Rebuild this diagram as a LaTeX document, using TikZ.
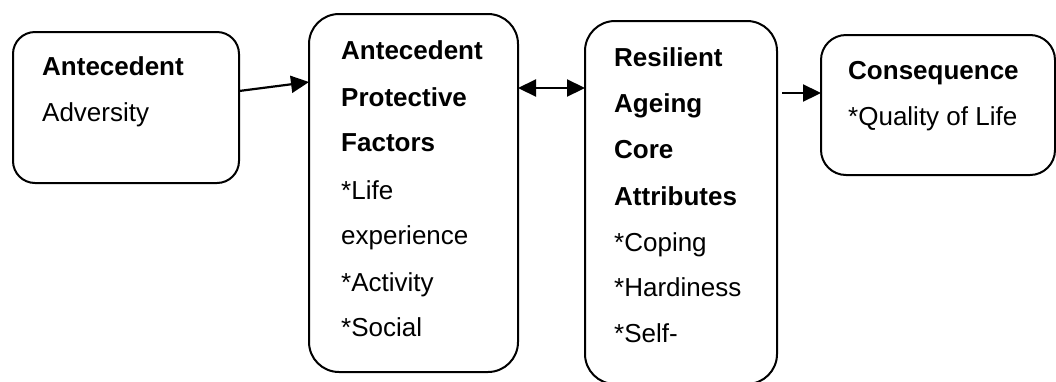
\documentclass[tikz,border=0pt]{standalone}
\usepackage{fontspec}
\setmainfont{Liberation Sans}
\usetikzlibrary{arrows.meta}
\begin{document}
\begin{tikzpicture}[x=1pt,y=-1pt,
  box/.style={draw=black, line width=2pt, rounded corners=#1, inner sep=0pt, outer sep=0pt, anchor=north west},
  txt/.style={anchor=base west, inner sep=0pt, font=\fontsize{26}{30}\selectfont},
  hd/.style={txt, font=\fontsize{26}{30}\selectfont\bfseries},
  tip/.tip={Triangle[length=18pt,width=17pt]},
  arr/.style={line width=2.2pt, -tip},
  darr/.style={line width=2.2pt, tip-tip}]
\useasboundingbox (0,0) rectangle (1056,381);
\clip (0,0) rectangle (1056,381);
\fill[white] (0,0) rectangle (1056,381);
% boxes
\node[box=22pt, minimum width=226pt, minimum height=151pt] (b1) at (13,32) {};
\node[box=30pt, minimum width=209pt, minimum height=358pt] (b2) at (309,14) {};
\node[box=30pt, minimum width=192pt, minimum height=363pt] (b3) at (585,21) {};
\node[box=25pt, minimum width=234pt, minimum height=140pt] (b4) at (821,35) {};
% box 1 text
\node[hd] (t11) at (42,75) {Antecedent};
\node[txt] (t12) at (42,121) {Adversity};
% box 2 text
\node[hd] (t21) at (341,59) {Antecedent};
\node[hd] (t22) at (341,106) {Protective};
\node[hd] (t23) at (341,151) {Factors};
\node[txt] (t24) at (341,199) {*Life};
\node[txt] (t25) at (341,244) {experience};
\node[txt] (t26) at (341,291) {*Activity};
\node[txt] (t27) at (341,336) {*Social};
% box 3 text
\node[hd] (t31) at (614,66) {Resilient};
\node[hd] (t32) at (614,112) {Ageing};
\node[hd] (t33) at (614,158) {Core};
\node[hd] (t34) at (614,205) {Attributes};
\node[txt] (t35) at (614,251) {*Coping};
\node[txt] (t36) at (614,296) {*Hardiness};
\node[txt] (t37) at (614,342) {*Self-};
% box 4 text
\node[hd] (t41) at (848,79) {Consequence};
\node[txt] (t42) at (848,125) {*Quality of Life};
% connectors
\draw[arr] ([yshift=16.5pt]b1.east) -- ([yshift=111pt]b2.west);
\draw[darr] ([yshift=105pt]b2.east) -- ([yshift=114.5pt]b3.west);
\draw[arr] ([xshift=5pt,yshift=109.5pt]b3.east) -- ([yshift=12pt]b4.west);
\end{tikzpicture}
\end{document}
